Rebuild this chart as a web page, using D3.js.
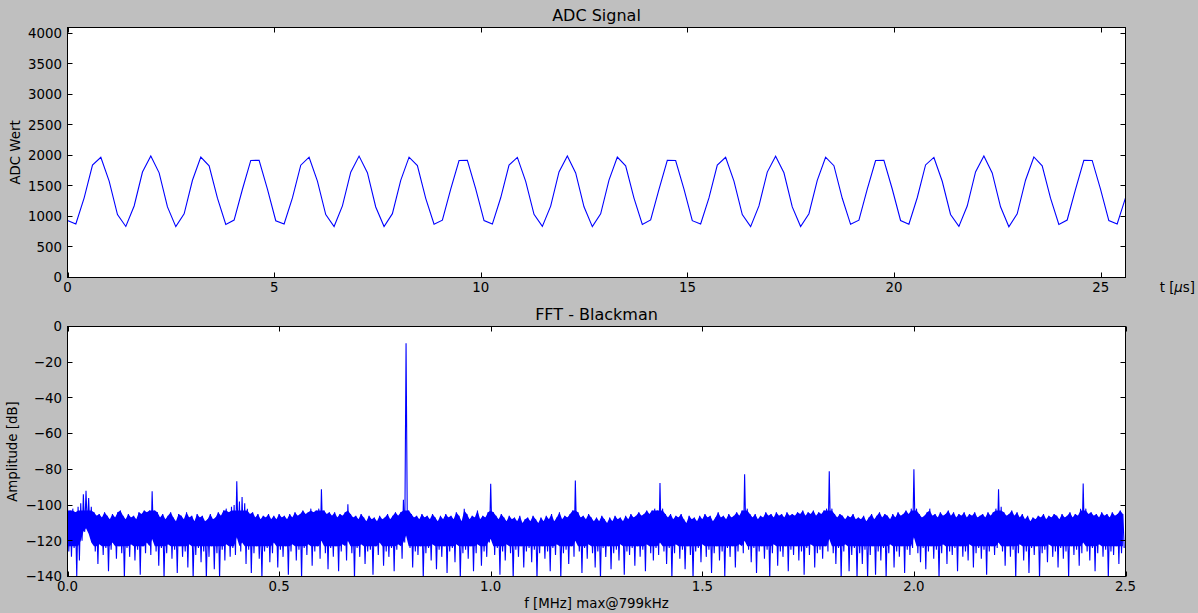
<!DOCTYPE html>
<html><head><meta charset="utf-8">
<script src="https://cdn.jsdelivr.net/npm/d3@7"></script>
<style>
body{margin:0;background:#bfbfbf;}
text{font-family:"DejaVu Sans",sans-serif;fill:#000;}
</style>
</head><body>
<svg id="chart" width="1198" height="613"></svg>
<script>
// ---------- Data: ADC signal (128 samples, t = 0 .. 25.6 µs) ----------
const adcValues = [
 932,876,1305,1842,1969,1578,1032,836,1172,1728,1990,1715,1157,834,1044,1593,1973,1831,1299,870,941,1446,1918,1919,1449,
 930,878,1303,1840,1971,1580,1030,835,1174,1726,1989,1717,1155,836,1046,1591,1972,1833,1297,872,939,1448,1916,1920,1451,
 933,875,1306,1843,1968,1576,1034,837,1170,1729,1991,1713,1159,833,1042,1595,1974,1829,1301,869,943,1444,1919,1917,1447,
 931,877,1304,1841,1970,1579,1031,834,1173,1727,1988,1716,1156,835,1045,1592,1971,1832,1298,871,940,1447,1917,1921,1450,
 934,874,1307,1844,1967,1577,1033,838,1171,1730,1990,1714,1158,832,1043,1594,1975,1830,1300,868,942,1445,1920,1918,1448,
 932,876,1305
];
const adcTimeMax = 25.6;       // µs
const adcYMax = 4096;
const adcXTicks = [0,5,10,15,20,25];
const adcYTicks = [0,500,1000,1500,2000,2500,3000,3500,4000];

// ---------- Data: FFT spectrum, per-bin max (top) / min (bottom) in dB ----------
const fftBinWidth = 0.00625;   // MHz per bin
const fftTop = [
 -101,-103,-102,-104,-101,-99,-94,-92,-96,-101,-104,-106,-105,-107,-104,-106,-108,-105,-107,-104,-103,-106,-108,-105,-107,
 -106,-108,-104,-105,-103,-104,-103,-92.3,-103,-104,-107,-105,-108,-106,-104,-107,-109,-105,-106,-108,-104,-107,-106,-109,-105,
 -107,-106,-109,-108,-105,-108,-107,-104,-106,-103,-102,-104,-101,-100,-86.7,-98,-95.5,-99,-102,-105,-104,-107,-105,-108,-106,
 -107,-105,-108,-106,-108,-105,-107,-106,-108,-105,-107,-104,-106,-105,-103,-105,-104,-102,-104,-103,-102,-91.2,-103,-105,-104,
 -106,-104,-107,-105,-106,-104,-99.6,-105,-107,-106,-108,-105,-107,-109,-106,-108,-107,-109,-106,-108,-107,-105,-108,-106,-104,
 -106,-104,-97,-9.4,-103,-105,-107,-106,-108,-105,-107,-106,-108,-105,-107,-109,-106,-108,-105,-107,-106,-108,-104,-106,-109,
 -102,-105,-108,-106,-107,-103,-108,-106,-107,-104,-88,-104,-106,-108,-105,-107,-109,-106,-108,-107,-109,-106,-110,-108,-107,
 -109,-106,-108,-110,-107,-109,-106,-108,-105,-109,-107,-104,-108,-106,-107,-105,-103,-86.2,-104,-107,-106,-108,-105,-107,-109,
 -107,-109,-106,-108,-110,-107,-109,-106,-108,-107,-109,-106,-108,-105,-107,-106,-104,-106,-105,-103,-105,-103,-102,-103,-87.7,
 -102,-105,-107,-105,-108,-106,-107,-105,-108,-110,-106,-108,-107,-109,-106,-108,-105,-107,-106,-109,-107,-104,-107,-106,-108,
 -105,-107,-106,-104,-106,-103,-82.8,-102,-105,-107,-105,-108,-106,-107,-104,-106,-105,-107,-104,-106,-105,-107,-104,-106,-105,
 -106,-104,-105,-103,-106,-104,-105,-103,-106,-104,-105,-103,-102,-81.1,-102,-105,-107,-105,-106,-108,-106,-107,-105,-108,-107,
 -108,-106,-109,-107,-105,-108,-106,-104,-107,-105,-106,-108,-105,-107,-104,-106,-105,-103,-105,-102,-80,-102,-105,-107,-106,
 -104,-102,-106,-105,-107,-104,-106,-105,-103,-106,-104,-107,-105,-106,-104,-107,-105,-106,-104,-107,-106,-105,-107,-104,-106,
 -104,-102,-91.2,-101,-104,-106,-105,-103,-106,-104,-107,-105,-108,-106,-109,-107,-108,-106,-107,-105,-108,-106,-107,-105,-106,
 -108,-105,-107,-106,-104,-107,-105,-106,-102,-87.9,-102,-105,-104,-106,-105,-107,-104,-106,-105,-107,-104,-106,-105,-103,-105
];
const fftBottom = [
 -126,-129,-124,-140,-131,-120,-115,-113,-116,-121,-126,-133,-122,-128,-124,-137,-125,-121,-130,-123,-127,-141,-124,-129,-122,
 -131,-125,-139,-123,-127,-121,-128,-119,-126,-134,-124,-141,-127,-122,-130,-125,-138,-123,-129,-126,-135,-122,-141,-128,-124,
 -132,-126,-141,-129,-123,-136,-127,-141,-125,-131,-122,-129,-124,-128,-118,-126,-121,-133,-125,-138,-127,-123,-130,-141,-126,
 -124,-132,-127,-121,-135,-125,-129,-123,-139,-126,-122,-131,-125,-141,-124,-128,-122,-134,-126,-123,-130,-120,-127,-136,-124,
 -129,-123,-137,-126,-122,-131,-120,-127,-141,-124,-129,-122,-133,-126,-125,-139,-123,-128,-121,-134,-126,-129,-124,-137,-125,
 -122,-130,-121,-117,-124,-135,-126,-128,-123,-141,-127,-124,-131,-122,-136,-125,-129,-123,-138,-126,-124,-132,-122,-141,-127,
 -125,-130,-123,-137,-127,-122,-134,-126,-129,-121,-119,-128,-124,-139,-126,-131,-122,-127,-141,-125,-129,-123,-135,-126,-124,
 -132,-125,-141,-127,-123,-130,-126,-137,-124,-128,-122,-141,-127,-125,-133,-123,-129,-120,-126,-138,-124,-130,-122,-127,-135,
 -126,-141,-124,-129,-123,-136,-127,-125,-131,-122,-139,-126,-128,-124,-134,-123,-129,-125,-137,-122,-127,-131,-124,-128,-121,
 -126,-133,-124,-141,-127,-122,-130,-125,-136,-123,-128,-141,-126,-124,-132,-122,-129,-125,-138,-127,-123,-131,-126,-140,-124,
 -129,-123,-135,-126,-122,-127,-120,-125,-132,-124,-138,-126,-123,-130,-125,-141,-127,-122,-134,-126,-129,-123,-137,-125,-128,
 -123,-131,-126,-139,-124,-128,-122,-135,-127,-125,-130,-123,-126,-119,-127,-133,-124,-141,-126,-122,-137,-128,-124,-141,-127,
 -133,-125,-141,-128,-123,-139,-126,-131,-124,-141,-127,-122,-135,-126,-129,-123,-138,-125,-128,-124,-118,-127,-132,-124,-136,
 -126,-123,-130,-125,-141,-127,-122,-133,-126,-128,-124,-137,-123,-129,-126,-131,-122,-135,-127,-124,-130,-125,-139,-126,-123,
 -128,-124,-121,-126,-134,-123,-129,-125,-141,-127,-122,-131,-126,-138,-124,-128,-123,-141,-127,-125,-132,-122,-129,-126,-135,
 -124,-130,-126,-141,-123,-128,-125,-134,-127,-121,-126,-131,-124,-137,-127,-122,-129,-125,-141,-126,-128,-123,-133,-127,-124
];
const fftXMax = 2.5;           // MHz
const fftXTicks = [0,0.5,1,1.5,2,2.5];
const fftYTicks = [0,-20,-40,-60,-80,-100,-120,-140];

// ---------- Layout ----------
const svg = d3.select("#chart");
svg.append("rect").attr("width",1198).attr("height",613).attr("fill","#bfbfbf");
const L = 67.5, R = 1125.5;
const top1 = 27.5, bot1 = 277.5, top2 = 326.5, bot2 = 576.5;
const TICK = 5;
const minus = s => s.replace("-", "\u2212");

function drawAxes(id, x, y, xTicks, yTicks, fx, fy, yTop, yBot, title, drawData) {
  const g = svg.append("g");
  g.append("rect").attr("x",L).attr("y",yTop).attr("width",R-L).attr("height",yBot-yTop).attr("fill","#fff");
  g.append("clipPath").attr("id",id).append("rect").attr("x",L).attr("y",yTop).attr("width",R-L).attr("height",yBot-yTop);
  const dg = g.append("g").attr("clip-path",`url(#${id})`);
  drawData(dg);
  xTicks.forEach(t => {
    const xp = Math.round(x(t)) + 0.5;
    g.append("line").attr("x1",xp).attr("x2",xp).attr("y1",yBot).attr("y2",yBot-TICK).attr("stroke","#000");
    g.append("line").attr("x1",xp).attr("x2",xp).attr("y1",yTop).attr("y2",yTop+TICK).attr("stroke","#000");
    g.append("text").attr("x",x(t)).attr("y",yBot+14.5).attr("text-anchor","middle").style("font-size","13.33px").text(fx(t));
  });
  yTicks.forEach(t => {
    const yp = Math.round(y(t) - 0.5) + 0.5;
    g.append("line").attr("x1",L).attr("x2",L+TICK).attr("y1",yp).attr("y2",yp).attr("stroke","#000");
    g.append("line").attr("x1",R).attr("x2",R-TICK).attr("y1",yp).attr("y2",yp).attr("stroke","#000");
    g.append("text").attr("x",L-5.5).attr("y",y(t)).attr("dy","0.36em").attr("text-anchor","end").style("font-size","13.33px").text(fy(t));
  });
  g.append("rect").attr("x",L).attr("y",yTop).attr("width",R-L).attr("height",yBot-yTop).attr("fill","none").attr("stroke","#000").attr("stroke-width",1);
  g.append("text").attr("x",(L+R)/2).attr("y",yTop-6.5).attr("text-anchor","middle").style("font-size","16px").text(title);
  return g;
}

// ---------- ADC Signal ----------
const x1 = d3.scaleLinear().domain([0, adcTimeMax]).range([L, R]);
const y1 = d3.scaleLinear().domain([0, adcYMax]).range([bot1, top1]);
const n = adcValues.length;
drawAxes("clip1", x1, y1, adcXTicks, adcYTicks, d => String(d), d => String(d), top1, bot1, "ADC Signal", dg => {
  const line = d3.line().x((d,i) => x1(i * adcTimeMax / (n - 1))).y(d => y1(d));
  dg.append("path").datum(adcValues).attr("d", line).attr("fill","none").attr("stroke","#0000ff").attr("stroke-width",1.1);
});
const tl = svg.append("text").attr("x",1195).attr("y",292).attr("text-anchor","end").style("font-size","13.33px");
tl.append("tspan").text("t [");
tl.append("tspan").style("font-style","italic").text("\u03bc");
tl.append("tspan").text("s]");
svg.append("text").attr("transform",`translate(20,${(top1+bot1)/2}) rotate(-90)`).attr("text-anchor","middle").style("font-size","13.33px").text("ADC Wert");

// ---------- FFT ----------
const x2 = d3.scaleLinear().domain([0, fftXMax]).range([L, R]);
const y2 = d3.scaleLinear().domain([-140, 0]).range([bot2, top2]);
const fftPts = [];
fftTop.forEach((v, i) => {
  fftPts.push([i * fftBinWidth, v]);
  fftPts.push([(i + 0.5) * fftBinWidth, fftBottom[i]]);
});
drawAxes("clip2", x2, y2, fftXTicks, fftYTicks, d => d.toFixed(1), d => minus(String(d)), top2, bot2, "FFT - Blackman", dg => {
  // dense core of the noise band (where the trace overlaps itself)
  const core = d3.area()
    .x((d, i) => x2(i * fftBinWidth))
    .y1(d => y2(Math.min(d, -103)))
    .y0((d, i) => y2(Math.max(fftBottom[i], -123)));
  dg.append("path").datum(fftTop).attr("d", core).attr("fill","#0000ff");
  const line = d3.line().x(d => x2(d[0])).y(d => y2(d[1]));
  dg.append("path").datum(fftPts).attr("d", line).attr("fill","none").attr("stroke","#0000ff").attr("stroke-width",1.1);
});
svg.append("text").attr("x",(L+R)/2).attr("y",608).attr("text-anchor","middle").style("font-size","13.33px").text("f [MHz] max@799kHz");
svg.append("text").attr("transform",`translate(16.5,${(top2+bot2)/2}) rotate(-90)`).attr("text-anchor","middle").style("font-size","13.33px").text("Amplitude [dB]");
</script>
</body></html>
